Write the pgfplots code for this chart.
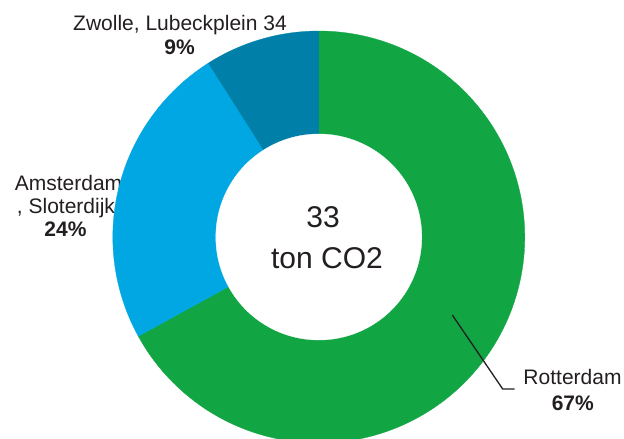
\documentclass[border=0pt]{standalone}
\usepackage{pgfplots}
\pgfplotsset{compat=1.18}
\usepackage{pgfplotstable}
\usepackage{fontspec}
\setmainfont{Liberation Sans}
\definecolor{cgreen}{RGB}{18,165,68}
\definecolor{clight}{RGB}{0,167,226}
\definecolor{cdark}{RGB}{0,128,168}
\definecolor{ctext}{RGB}{35,31,32}
\pgfplotstableread{
name value
Rotterdam 67
Amsterdam 24
Zwolle 9
}\datatable
\pgfplotstablegetelem{0}{value}\of\datatable \let\vA\pgfplotsretval
\pgfplotstablegetelem{1}{value}\of\datatable \let\vB\pgfplotsretval
\pgfplotstablegetelem{2}{value}\of\datatable \let\vC\pgfplotsretval
\pgfmathsetmacro{\tot}{\vA+\vB+\vC}
\pgfmathsetmacro{\aZero}{90}
\pgfmathsetmacro{\aOne}{90-\vA/\tot*360}
\pgfmathsetmacro{\aTwo}{\aOne-\vB/\tot*360}
\pgfmathsetmacro{\aThree}{\aTwo-\vC/\tot*360}
\def\cx{318.8}
\def\cy{237}
\def\Ro{206}
\def\Ri{103}
\tikzset{lab/.style={anchor=base, inner sep=0pt, text=ctext, font=\fontsize{21bp}{25bp}\selectfont}}
\begin{document}
\begin{tikzpicture}
\useasboundingbox (0,0) rectangle (624bp,439bp);
\begin{axis}[
  at={(0,0)}, anchor=south west,
  width=624bp, height=439bp, scale only axis,
  xmin=0, xmax=624, ymin=0, ymax=439, y dir=reverse,
  hide axis, clip=true,
]
% labels
\node[lab] at (axis cs:180,31) {Zwolle, Lubeckplein 34};
\node[lab] at (axis cs:179.5,55) {\bfseries 9\%};
\node[lab] at (axis cs:68.5,190) {Amsterdam};
\node[lab] at (axis cs:66,213.3) {, Sloterdijk};
\node[lab] at (axis cs:65.5,236.7) {\bfseries 24\%};
\node[lab] at (axis cs:572.5,384.3) {Rotterdam};
\node[lab] at (axis cs:572.8,410) {\bfseries 67\%};
% wedges
\addplot[fill=cgreen, draw=cgreen, line width=0.3bp, domain=\aOne:\aZero, samples=181, variable=\t]
  ({\cx+\Ro*cos(\t)},{\cy-\Ro*sin(\t)}) -- (axis cs:\cx,\cy) -- cycle;
\addplot[fill=clight, draw=clight, line width=0.3bp, domain=\aTwo:\aOne, samples=91, variable=\t]
  ({\cx+\Ro*cos(\t)},{\cy-\Ro*sin(\t)}) -- (axis cs:\cx,\cy) -- cycle;
\addplot[fill=cdark, draw=cdark, line width=0.3bp, domain=\aThree:\aTwo, samples=41, variable=\t]
  ({\cx+\Ro*cos(\t)},{\cy-\Ro*sin(\t)}) -- (axis cs:\cx,\cy) -- cycle;
% hole
\addplot[fill=white, draw=white, line width=0.3bp, domain=0:360, samples=181, variable=\t]
  ({\cx+\Ri*cos(\t)},{\cy-\Ri*sin(\t)}) -- cycle;
% center text
\node[lab, font=\fontsize{30bp}{36bp}\selectfont] at (axis cs:323,227.7) {33};
\node[lab, font=\fontsize{30bp}{36bp}\selectfont] at (axis cs:327,268.3) {ton CO2};
% leader line
\addplot[ctext, line width=1.3bp] coordinates {(452.3,315) (502.7,389) (514.5,389)};
\end{axis}
\end{tikzpicture}
\end{document}
